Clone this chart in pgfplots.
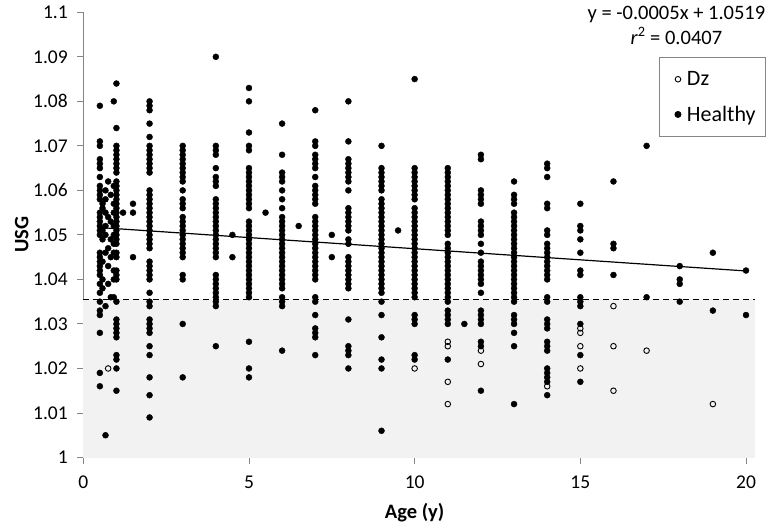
\documentclass[border=0pt]{standalone}
\usepackage{pgfplots}
\pgfplotsset{compat=1.18}
\usepackage{fontspec}
\setmainfont{Carlito}
\definecolor{shade}{HTML}{F2F2F2}
\definecolor{axgray}{HTML}{868686}
\begin{document}
\begin{tikzpicture}
\path[use as bounding box] (-83.3pt,-70.5pt) rectangle (686.7pt,457.5pt);
\begin{axis}[
  at={(0,0)}, anchor=south west,
  scale only axis, width=662.7pt, height=445.2pt,
  xmin=0, xmax=20, ymin=1, ymax=1.1,
  clip=false,
  axis x line*=bottom, axis y line*=left,
  axis line style={-, axgray, line width=0.9pt},
  tick style={axgray, line width=0.9pt},
  tick align=outside, major tick length=6pt,
  xtick={0,5,10,15,20}, xticklabels={0,5,10,15,20},
  ytick={1,1.01,1.02,1.03,1.04,1.05,1.06,1.07,1.08,1.09,1.1},
  yticklabels={1,1.01,1.02,1.03,1.04,1.05,1.06,1.07,1.08,1.09,1.1},
  /pgf/number format/assume math mode=true,
  tick label style={font=\fontsize{19.5}{23}\selectfont},
  xticklabel style={yshift=-9pt},
  yticklabel style={xshift=-6pt},
  xlabel={Age (y)}, ylabel={USG},
  xlabel style={font=\fontsize{20.5}{24}\selectfont\bfseries, at={(axis description cs:0.5,-0.1247)}, anchor=center},
  ylabel style={font=\fontsize{20.5}{24}\selectfont\bfseries, at={(axis description cs:-0.093,0.5)}, anchor=center, rotate=0},
  legend style={at={(rel axis cs:0.868,0.8996)}, anchor=north west, draw=axgray, fill=white, line width=0.9pt,
    font=\fontsize{22}{25}\selectfont, row sep=15pt, inner xsep=8pt, inner ysep=12pt, cells={anchor=west}},
  legend image code/.code={\path[draw=none] (0pt,0pt) (18pt,0pt); \draw[#1] plot coordinates {(11pt,0pt)};},
  reverse legend,
]
% shaded region below threshold
\addplot[draw=none, fill=shade, forget plot] coordinates {(0,1) (20.27,1) (20.27,1.0355) (0,1.0355)} -- cycle;
% threshold
\addplot[black, line width=1.1pt, dash pattern=on 6pt off 4pt, forget plot] coordinates {(0,1.0355) (20.27,1.0355)};
% Healthy
\addplot[only marks, mark=*, mark size=3pt, mark options={fill=black, draw=black}] coordinates {
(0.5,1.079)(0.5,1.071)(0.5,1.070)(0.5,1.067)(0.5,1.066)(0.5,1.065)(0.5,1.063)(0.5,1.061)(0.5,1.060)(0.5,1.059)(0.5,1.058)(0.5,1.055)(0.5,1.054)(0.5,1.053)(0.5,1.052)(0.5,1.051)(0.5,1.050)(0.5,1.046)(0.5,1.045)(0.5,1.044)(0.5,1.043)(0.5,1.042)(0.5,1.041)(0.5,1.039)(0.5,1.037)(0.5,1.035)(0.5,1.033)(0.5,1.032)(0.5,1.028)(0.5,1.019)(0.5,1.016)
(0.58,1.057)(0.58,1.056)(0.58,1.051)(0.58,1.049)(0.58,1.044)(0.58,1.040)(0.58,1.038)
(0.67,1.060)(0.67,1.058)(0.67,1.055)(0.67,1.052)(0.67,1.050)(0.67,1.046)(0.67,1.034)(0.67,1.005)
(0.75,1.062)(0.75,1.054)(0.75,1.047)(0.75,1.043)(0.75,1.039)
(0.83,1.059)(0.83,1.053)(0.83,1.049)(0.83,1.045)(0.83,1.036)
(0.92,1.080)(0.92,1.061)(0.92,1.057)(0.92,1.055)(0.92,1.052)(0.92,1.050)(0.92,1.048)(0.92,1.046)(0.92,1.042)(0.92,1.040)(0.92,1.036)
(1,1.084)(1,1.074)(1,1.070)(1,1.069)(1,1.068)(1,1.067)(1,1.066)(1,1.065)(1,1.064)(1,1.062)(1,1.061)(1,1.060)(1,1.059)(1,1.058)(1,1.057)(1,1.056)(1,1.055)(1,1.054)(1,1.053)(1,1.052)(1,1.051)(1,1.050)(1,1.049)(1,1.048)(1,1.046)(1,1.045)(1,1.042)(1,1.041)(1,1.040)(1,1.035)(1,1.031)(1,1.030)(1,1.029)(1,1.028)(1,1.027)(1,1.023)(1,1.022)(1,1.020)(1,1.015)
(1.2,1.055)
(1.5,1.057)(1.5,1.055)(1.5,1.045)
(2,1.080)(2,1.079)(2,1.078)(2,1.075)(2,1.072)(2,1.070)(2,1.069)(2,1.068)(2,1.067)(2,1.066)(2,1.065)(2,1.064)(2,1.060)(2,1.059)(2,1.058)(2,1.057)(2,1.056)(2,1.055)(2,1.054)(2,1.053)(2,1.052)(2,1.051)(2,1.050)(2,1.049)(2,1.048)(2,1.047)(2,1.044)(2,1.043)(2,1.042)(2,1.041)(2,1.040)(2,1.037)(2,1.035)(2,1.034)(2,1.031)(2,1.030)(2,1.029)(2,1.028)(2,1.025)(2,1.023)(2,1.018)(2,1.014)(2,1.009)
(3,1.070)(3,1.069)(3,1.068)(3,1.067)(3,1.066)(3,1.065)(3,1.064)(3,1.063)(3,1.062)(3,1.060)(3,1.058)(3,1.057)(3,1.056)(3,1.054)(3,1.053)(3,1.052)(3,1.051)(3,1.050)(3,1.049)(3,1.048)(3,1.047)(3,1.046)(3,1.045)(3,1.041)(3,1.040)(3,1.030)(3,1.018)
(4,1.090)(4,1.070)(4,1.069)(4,1.068)(4,1.065)(4,1.063)(4,1.062)(4,1.061)(4,1.058)(4,1.057)(4,1.056)(4,1.055)(4,1.054)(4,1.053)(4,1.052)(4,1.051)(4,1.050)(4,1.049)(4,1.048)(4,1.047)(4,1.046)(4,1.045)(4,1.041)(4,1.040)(4,1.039)(4,1.038)(4,1.037)(4,1.036)(4,1.035)(4,1.034)(4,1.025)
(4.5,1.050)(4.5,1.045)
(5,1.083)(5,1.080)(5,1.073)(5,1.070)(5,1.069)(5,1.065)(5,1.064)(5,1.063)(5,1.062)(5,1.061)(5,1.060)(5,1.059)(5,1.058)(5,1.057)(5,1.056)(5,1.053)(5,1.052)(5,1.051)(5,1.050)(5,1.049)(5,1.048)(5,1.047)(5,1.046)(5,1.045)(5,1.044)(5,1.043)(5,1.042)(5,1.041)(5,1.040)(5,1.039)(5,1.038)(5,1.037)(5,1.036)(5,1.026)(5,1.020)(5,1.018)
(5.5,1.055)
(6,1.075)(6,1.068)(6,1.064)(6,1.063)(6,1.062)(6,1.060)(6,1.058)(6,1.056)(6,1.054)(6,1.053)(6,1.052)(6,1.051)(6,1.050)(6,1.049)(6,1.048)(6,1.047)(6,1.046)(6,1.045)(6,1.044)(6,1.043)(6,1.042)(6,1.041)(6,1.040)(6,1.039)(6,1.038)(6,1.036)(6,1.035)(6,1.034)(6,1.024)
(6.5,1.052)
(7,1.078)(7,1.071)(7,1.070)(7,1.068)(7,1.067)(7,1.066)(7,1.065)(7,1.063)(7,1.061)(7,1.060)(7,1.059)(7,1.058)(7,1.057)(7,1.054)(7,1.053)(7,1.052)(7,1.051)(7,1.050)(7,1.049)(7,1.048)(7,1.047)(7,1.046)(7,1.045)(7,1.044)(7,1.043)(7,1.042)(7,1.041)(7,1.040)(7,1.036)(7,1.035)(7,1.032)(7,1.029)(7,1.028)(7,1.027)(7,1.023)
(7.5,1.050)(7.5,1.045)
(8,1.080)(8,1.071)(8,1.067)(8,1.066)(8,1.065)(8,1.064)(8,1.063)(8,1.062)(8,1.060)(8,1.056)(8,1.055)(8,1.054)(8,1.053)(8,1.052)(8,1.051)(8,1.049)(8,1.048)(8,1.045)(8,1.044)(8,1.043)(8,1.042)(8,1.041)(8,1.040)(8,1.039)(8,1.038)(8,1.031)(8,1.025)(8,1.024)(8,1.023)(8,1.020)
(9,1.070)(9,1.065)(9,1.064)(9,1.063)(9,1.062)(9,1.061)(9,1.060)(9,1.058)(9,1.057)(9,1.056)(9,1.055)(9,1.054)(9,1.053)(9,1.052)(9,1.051)(9,1.050)(9,1.049)(9,1.048)(9,1.047)(9,1.046)(9,1.045)(9,1.044)(9,1.043)(9,1.042)(9,1.041)(9,1.040)(9,1.039)(9,1.038)(9,1.037)(9,1.035)(9,1.032)(9,1.027)(9,1.022)(9,1.020)(9,1.006)
(9.5,1.051)
(10,1.085)(10,1.065)(10,1.064)(10,1.063)(10,1.062)(10,1.061)(10,1.060)(10,1.059)(10,1.058)(10,1.056)(10,1.055)(10,1.054)(10,1.053)(10,1.052)(10,1.051)(10,1.050)(10,1.049)(10,1.048)(10,1.047)(10,1.046)(10,1.045)(10,1.044)(10,1.043)(10,1.042)(10,1.041)(10,1.040)(10,1.039)(10,1.038)(10,1.037)(10,1.036)(10,1.032)(10,1.031)(10,1.030)(10,1.023)(10,1.022)
(11,1.065)(11,1.064)(11,1.063)(11,1.062)(11,1.061)(11,1.060)(11,1.059)(11,1.058)(11,1.057)(11,1.056)(11,1.055)(11,1.054)(11,1.053)(11,1.052)(11,1.051)(11,1.050)(11,1.048)(11,1.047)(11,1.046)(11,1.045)(11,1.044)(11,1.043)(11,1.042)(11,1.041)(11,1.040)(11,1.039)(11,1.038)(11,1.037)(11,1.036)(11,1.035)(11,1.033)(11,1.032)(11,1.031)(11,1.030)(11,1.022)
(11.5,1.030)
(12,1.068)(12,1.067)(12,1.060)(12,1.059)(12,1.058)(12,1.057)(12,1.053)(12,1.052)(12,1.051)(12,1.050)(12,1.048)(12,1.046)(12,1.044)(12,1.043)(12,1.042)(12,1.041)(12,1.040)(12,1.039)(12,1.037)(12,1.033)(12,1.032)(12,1.031)(12,1.030)(12,1.026)(12,1.025)(12,1.015)
(13,1.062)(13,1.059)(13,1.058)(13,1.057)(13,1.055)(13,1.054)(13,1.053)(13,1.052)(13,1.051)(13,1.050)(13,1.049)(13,1.048)(13,1.047)(13,1.046)(13,1.045)(13,1.044)(13,1.043)(13,1.042)(13,1.041)(13,1.040)(13,1.039)(13,1.038)(13,1.037)(13,1.036)(13,1.035)(13,1.032)(13,1.031)(13,1.030)(13,1.028)(13,1.025)(13,1.012)
(14,1.066)(14,1.065)(14,1.063)(14,1.057)(14,1.056)(14,1.051)(14,1.050)(14,1.048)(14,1.047)(14,1.046)(14,1.045)(14,1.044)(14,1.043)(14,1.042)(14,1.041)(14,1.040)(14,1.036)(14,1.035)(14,1.031)(14,1.030)(14,1.029)(14,1.026)(14,1.025)(14,1.024)(14,1.020)(14,1.019)(14,1.018)(14,1.017)(14,1.014)
(15,1.057)(15,1.052)(15,1.051)(15,1.049)(15,1.046)(15,1.042)(15,1.041)(15,1.036)(15,1.035)(15,1.034)(15,1.030)(15,1.023)(15,1.017)
(16,1.062)(16,1.048)(16,1.047)(16,1.041)
(17,1.070)(17,1.036)
(18,1.043)(18,1.040)(18,1.039)(18,1.035)
(19,1.046)(19,1.033)
(20,1.042)(20,1.032)
};
\addlegendentry{Healthy}
% Dz
\addplot[only marks, mark=o, mark size=2.8pt, mark options={draw=black, fill=white, line width=0.9pt}] coordinates {
(0.75,1.020)(10,1.020)(11,1.026)(11,1.025)(11,1.017)(11,1.012)(12,1.024)(12,1.021)(14,1.016)
(15,1.029)(15,1.028)(15,1.025)(15,1.020)(16,1.034)(16,1.025)(16,1.015)(17,1.024)(19,1.012)
};
\addlegendentry{Dz}
% trend line
\addplot[black, line width=1.2pt, forget plot] coordinates {(0.5,1.05165) (20,1.0419)};
\node[font=\fontsize{20.5}{25}\selectfont, align=center, anchor=north] at (axis cs:17.9,1.1022) {y = -0.0005x + 1.0519\\\textit{r}\textsuperscript{2} = 0.0407};
\end{axis}
\end{tikzpicture}
\end{document}
